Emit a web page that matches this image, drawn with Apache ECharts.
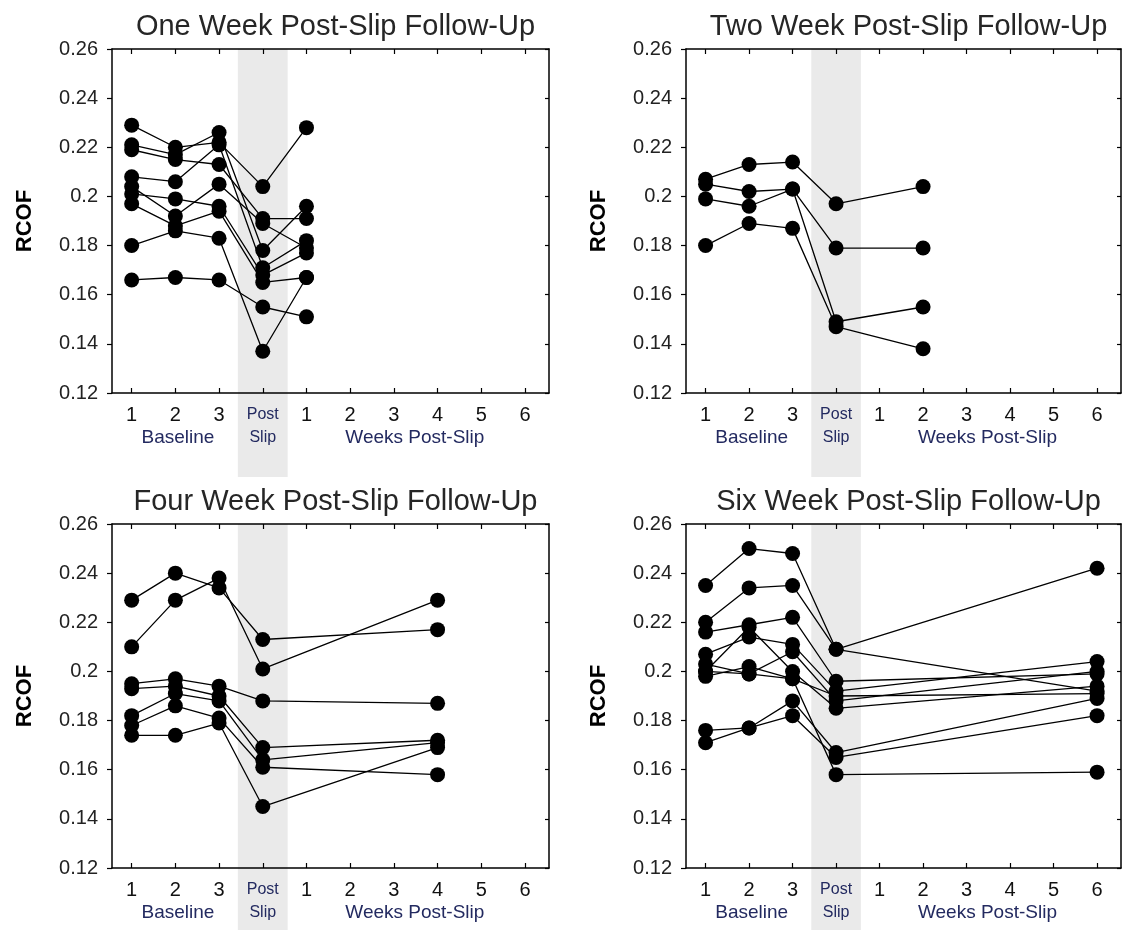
<!DOCTYPE html>
<html>
<head>
<meta charset="utf-8">
<script src="https://cdn.jsdelivr.net/npm/echarts@6/dist/echarts.min.js"></script>
<style>
html,body{margin:0;padding:0;background:#fff;}
#chart{width:1123px;height:930px;}
</style>
</head>
<body>
<div id="chart"></div>
<script>
// ---------- DATA ----------
const panelTitles = [
  'One Week Post-Slip Follow-Up',
  'Two Week Post-Slip Follow-Up',
  'Four Week Post-Slip Follow-Up',
  'Six Week Post-Slip Follow-Up'
];
// x slots: 1-3 baseline, 4 post slip, 5..10 = weeks 1..6 post-slip
const xSlots = [1, 2, 3, 4, 5, 6, 7, 8, 9, 10];
const xTickLabels = ['1', '2', '3', 'Post', '1', '2', '3', '4', '5', '6'];
const groupLabels = ['Baseline', 'Slip', 'Weeks Post-Slip'];
const groupSlots = [2.06, 4, 7.48];
const followUpSlot = [5, 6, 8, 10];
const yTicks = [0.12, 0.14, 0.16, 0.18, 0.2, 0.22, 0.24, 0.26];

// each row: baseline 1, baseline 2, baseline 3, post slip, follow-up
const oneWeekRCOF = [
  [0.229, 0.220, 0.222, 0.204, 0.228],
  [0.221, 0.217, 0.226, 0.178, 0.196],
  [0.219, 0.215, 0.213, 0.191, 0.191],
  [0.208, 0.206, 0.221, 0.171, 0.182],
  [0.204, 0.192, 0.205, 0.189, 0.179],
  [0.201, 0.199, 0.196, 0.168, 0.177],
  [0.197, 0.188, 0.194, 0.165, 0.167],
  [0.180, 0.186, 0.183, 0.137, 0.167],
  [0.166, 0.167, 0.166, 0.155, 0.151]
];
const twoWeekRCOF = [
  [0.207, 0.213, 0.214, 0.197, 0.204],
  [0.205, 0.202, 0.203, 0.179, 0.179],
  [0.199, 0.196, 0.203, 0.149, 0.155],
  [0.180, 0.189, 0.187, 0.147, 0.138]
];
const fourWeekRCOF = [
  [0.229, 0.240, 0.234, 0.213, 0.217],
  [0.210, 0.229, 0.238, 0.201, 0.229],
  [0.195, 0.197, 0.194, 0.188, 0.187],
  [0.193, 0.194, 0.190, 0.169, 0.172],
  [0.182, 0.191, 0.188, 0.164, 0.171],
  [0.178, 0.186, 0.181, 0.161, 0.158],
  [0.174, 0.174, 0.179, 0.145, 0.169]
];
const sixWeekRCOF = [
  [0.235, 0.250, 0.248, 0.209, 0.192],
  [0.220, 0.234, 0.235, 0.209, 0.242],
  [0.216, 0.219, 0.222, 0.196, 0.199],
  [0.207, 0.214, 0.211, 0.192, 0.204],
  [0.203, 0.199, 0.208, 0.188, 0.200],
  [0.200, 0.218, 0.200, 0.185, 0.194],
  [0.198, 0.202, 0.197, 0.190, 0.191],
  [0.176, 0.177, 0.188, 0.167, 0.189],
  [0.171, 0.177, 0.182, 0.165, 0.182],
  [0.200, 0.199, 0.197, 0.158, 0.159]
];
const panelData = [oneWeekRCOF, twoWeekRCOF, fourWeekRCOF, sixWeekRCOF];

// ---------- LAYOUT ----------
const gridBoxes = [
  {left: 112, top: 49, width: 437, height: 344},
  {left: 686, top: 49, width: 435, height: 344},
  {left: 112, top: 524, width: 437, height: 344},
  {left: 686, top: 524, width: 435, height: 344}
];
const X_MIN = 0.55, X_MAX = 10.55;
const BAND = [3.43, 4.57];
const FONT = '"Liberation Sans", Arial, sans-serif';
const NAVY = '#232a60';

const chart = echarts.init(document.getElementById('chart'), null, {renderer: 'canvas'});

const grid = [], xAxis = [], yAxis = [], series = [], title = [];
gridBoxes.forEach((g, i) => {
  grid.push({left: g.left, top: g.top, width: g.width, height: g.height, show: false});
  title.push({
    text: panelTitles[i],
    left: g.left + g.width / 2,
    top: g.top - 42,
    textAlign: 'center',
    textStyle: {fontFamily: FONT, fontSize: 29, fontWeight: 'normal', color: '#262626'}
  });
  // primary bottom axis (index 3*i)
  xAxis.push({
    type: 'value', gridIndex: i, min: X_MIN, max: X_MAX, position: 'bottom',
    splitLine: {show: false},
    axisLine: {show: true, onZero: false, lineStyle: {color: '#000', width: 1.5}},
    axisTick: {show: true, inside: true, length: 5, customValues: xSlots, lineStyle: {color: '#000', width: 1.2}},
    axisLabel: {
      show: true, margin: 12, customValues: xSlots,
      formatter: v => {
        const lab = xTickLabels[Math.round(v) - 1];
        return lab === 'Post' ? '{p|' + lab + '}' : '{n|' + lab + '}';
      },
      rich: {
        n: {fontFamily: FONT, fontSize: 20, color: '#111', lineHeight: 20},
        p: {fontFamily: FONT, fontSize: 16, color: NAVY, lineHeight: 20}
      }
    }
  });
  // group labels axis (index 3*i+1)
  xAxis.push({
    type: 'value', gridIndex: i, min: X_MIN, max: X_MAX, position: 'bottom',
    splitLine: {show: false}, axisLine: {show: false}, axisTick: {show: false},
    axisLabel: {
      show: true, margin: 35, customValues: groupSlots,
      formatter: v => {
        const k = groupSlots.findIndex(s => Math.abs(s - v) < 1e-6);
        const lab = groupLabels[k];
        return lab === 'Slip' ? '{p|' + lab + '}' : '{g|' + lab + '}';
      },
      rich: {
        g: {fontFamily: FONT, fontSize: 19, color: NAVY, lineHeight: 20},
        p: {fontFamily: FONT, fontSize: 16, color: NAVY, lineHeight: 20}
      }
    }
  });
  // top frame axis (index 3*i+2)
  xAxis.push({
    type: 'value', gridIndex: i, min: X_MIN, max: X_MAX, position: 'top',
    splitLine: {show: false},
    axisLine: {show: true, onZero: false, lineStyle: {color: '#000', width: 1.5}},
    axisTick: {show: true, inside: true, length: 5, customValues: xSlots, lineStyle: {color: '#000', width: 1.2}},
    axisLabel: {show: false}
  });
  // left y axis (index 2*i)
  yAxis.push({
    type: 'value', gridIndex: i, min: 0.12, max: 0.26, interval: 0.02, position: 'left',
    splitLine: {show: false},
    axisLine: {show: true, onZero: false, lineStyle: {color: '#000', width: 1.5}},
    axisTick: {show: true, inside: false, length: 5, lineStyle: {color: '#000', width: 1.2}},
    axisLabel: {margin: 14, fontFamily: FONT, fontSize: 20, color: '#222'},
    name: 'RCOF', nameLocation: 'middle', nameRotate: 90, nameGap: 76,
    nameTextStyle: {fontFamily: FONT, fontSize: 22, fontWeight: 'bold', color: '#000'}
  });
  // right frame axis (index 2*i+1)
  yAxis.push({
    type: 'value', gridIndex: i, min: 0.12, max: 0.26, interval: 0.02, position: 'right',
    splitLine: {show: false},
    axisLine: {show: true, onZero: false, lineStyle: {color: '#000', width: 1.5}},
    axisTick: {show: true, inside: true, length: 4, lineStyle: {color: '#000', width: 1.2}},
    axisLabel: {show: false}
  });
  const slots = [1, 2, 3, 4, followUpSlot[i]];
  panelData[i].forEach(subject => {
    series.push({
      type: 'line', xAxisIndex: 3 * i, yAxisIndex: 2 * i,
      data: subject.map((v, k) => [slots[k], v]),
      symbol: 'circle', symbolSize: 15, showSymbol: true,
      lineStyle: {color: '#000', width: 1.3},
      itemStyle: {color: '#000'},
      z: 3, silent: true
    });
  });
});

chart.setOption({
  animation: false,
  backgroundColor: '#fff',
  title, grid, xAxis, yAxis, series
});

// grey "post slip" band, extending below the axis through the labels
const bands = [];
gridBoxes.forEach((g, i) => {
  const p0 = chart.convertToPixel({xAxisIndex: 3 * i, yAxisIndex: 2 * i}, [BAND[0], 0.26]);
  const p1 = chart.convertToPixel({xAxisIndex: 3 * i, yAxisIndex: 2 * i}, [BAND[1], 0.12]);
  bands.push({
    type: 'rect', z: -5, silent: true,
    shape: {x: p0[0], y: p0[1], width: p1[0] - p0[0], height: (p1[1] - p0[1]) + 84},
    style: {fill: '#eaeaea'}
  });
});
chart.setOption({graphic: {elements: bands}});
</script>
</body>
</html>
